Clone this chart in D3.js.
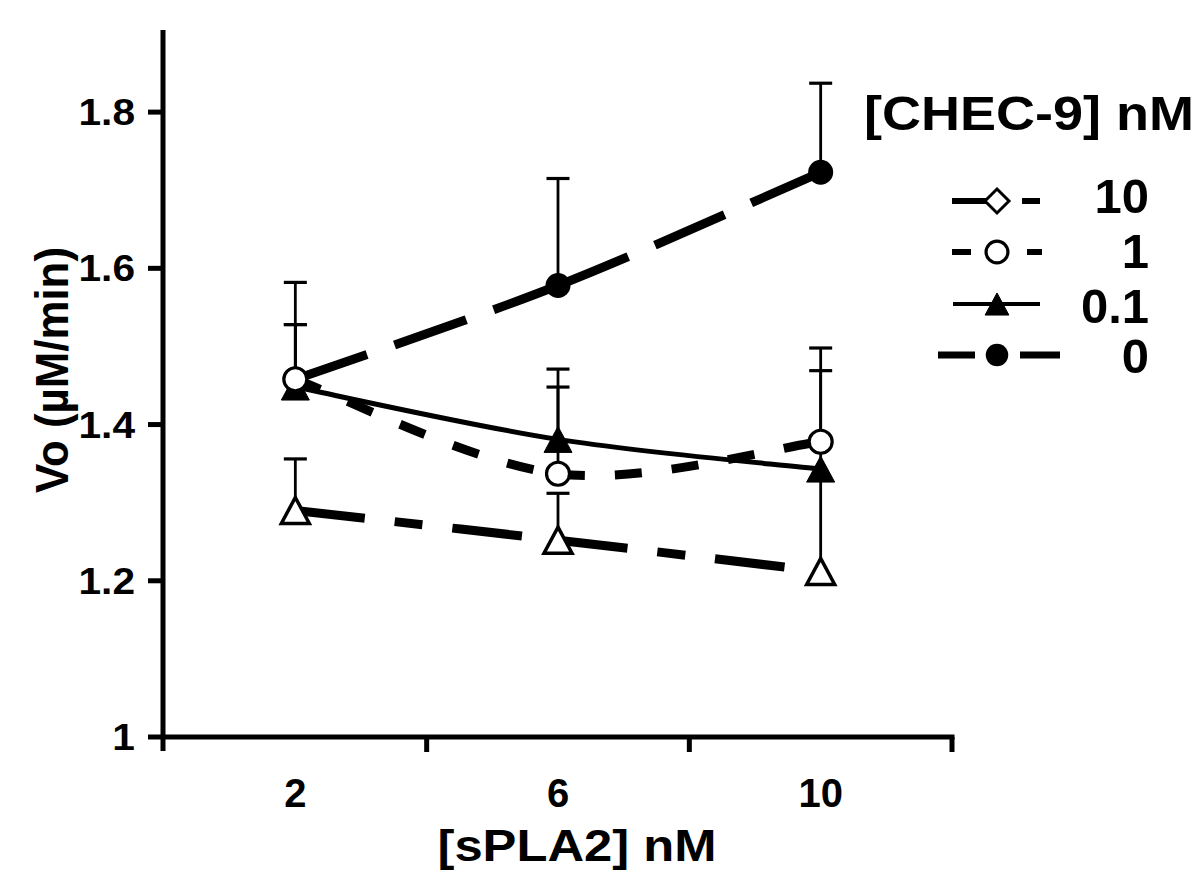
<!DOCTYPE html>
<html><head><meta charset="utf-8">
<script src="https://cdn.jsdelivr.net/npm/d3@7"></script>
<style>
body{margin:0;background:#fff}
text{font-family:"Liberation Sans",Arial,Helvetica,sans-serif;font-weight:bold;fill:#000}
</style>
</head><body>
<svg id="c" width="1200" height="887"></svg>
<script>
// ---- data ----
const categories = ["2", "6", "10"];
const values0 = [1.458, 1.578, 1.723];
const errUp0 = [0.124, 0.137, 0.114];
const errDown0 = [0, 0, 0];
const values01 = [1.448, 1.381, 1.343];
const errUp01 = [0.08, 0.09, 0.126];
const errDown01 = [0, 0, 0.126];
const values1 = [1.458, 1.337, 1.378];
const errUp1 = [0.07, 0.111, 0.12];
const errDown1 = [0, 0, 0];
const values10 = [1.29, 1.252, 1.212];
const errUp10 = [0.066, 0.06, 0];
const errDown10 = [0, 0, 0];
const yTicks = [1, 1.2, 1.4, 1.6, 1.8];
const xTitle = "[sPLA2] nM";
const yTitle = "Vo (µM/min)";
const legendTitle = "[CHEC-9] nM";
const legendLabels = ["10", "1", "0.1", "0"];

// ---- series styling ----
const series = [
  {name: "0", vals: values0, up: errUp0, dn: errDown0, width: 9, dash: "76,29", marker: "fcircle"},
  {name: "0.1", vals: values01, up: errUp01, dn: errDown01, width: 5, dash: null, marker: "ftri"},
  {name: "1", vals: values1, up: errUp1, dn: errDown1, width: 9, dash: "27,30", marker: "ocircle"},
  {name: "10", vals: values10, up: errUp10, dn: errDown10, width: 9, dash: "70,30,28,30", marker: "otri"}
];

const svg = d3.select("#c");
const x = d3.scaleBand().domain(categories).range([164, 952]).paddingInner(0).paddingOuter(0);
const cx = c => x(c) + x.bandwidth() / 2;
const y = d3.scaleLinear().domain([1, 1.9]).range([737, 34]);

// ---- axes ----
const AW = 5;
const axisG = svg.append("g");
axisG.append("line").attr("x1", 163).attr("x2", 163).attr("y1", y(1.9) - 4).attr("y2", 751)
  .attr("stroke", "#000").attr("stroke-width", AW);
axisG.append("line").attr("x1", 161).attr("x2", x.range()[1] + 2.5).attr("y1", y(1)).attr("y2", y(1))
  .attr("stroke", "#000").attr("stroke-width", AW);
const bounds = categories.map(c => x(c)).concat([x(categories[categories.length - 1]) + x.bandwidth()]).slice(1);
bounds.forEach(b => {
  axisG.append("line").attr("x1", b).attr("x2", b).attr("y1", y(1)).attr("y2", y(1) + 15)
    .attr("stroke", "#000").attr("stroke-width", AW);
});
categories.forEach(c => {
  axisG.append("text").attr("x", cx(c)).attr("y", 807).attr("text-anchor", "middle")
    .attr("font-size", 40).text(c);
});
yTicks.forEach(t => {
  axisG.append("line").attr("x1", 148).attr("x2", 163).attr("y1", y(t)).attr("y2", y(t))
    .attr("stroke", "#000").attr("stroke-width", AW);
  axisG.append("text").attr("transform", `translate(135,${y(t)}) scale(1.13,1)`)
    .attr("dy", "0.36em").attr("text-anchor", "end")
    .attr("font-size", 36).text(t === 1 ? "1" : d3.format(".1f")(t));
});
svg.append("text").attr("x", 577).attr("y", 861).attr("text-anchor", "middle")
  .attr("font-size", 45).attr("textLength", 279).attr("lengthAdjust", "spacingAndGlyphs").text(xTitle);
svg.append("text").attr("transform", "translate(68,370) rotate(-90)").attr("text-anchor", "middle")
  .attr("font-size", 46).attr("textLength", 246).attr("lengthAdjust", "spacingAndGlyphs").text(yTitle);

// ---- smoothed segments (pattern restarts at each point) ----
function segments(vals) {
  const p = vals.map((v, i) => [cx(categories[i]), y(v)]);
  const out = [];
  for (let i = 0; i < p.length - 1; i++) {
    const p0 = p[i - 1] || p[i], p1 = p[i], p2 = p[i + 1], p3 = p[i + 2] || p[i + 1];
    const path = d3.path();
    path.moveTo(p1[0], p1[1]);
    path.bezierCurveTo(
      p1[0] + (p2[0] - p0[0]) / 6, p1[1] + (p2[1] - p0[1]) / 6,
      p2[0] - (p3[0] - p1[0]) / 6, p2[1] - (p3[1] - p1[1]) / 6,
      p2[0], p2[1]);
    out.push(path.toString());
  }
  return out;
}

const linesG = svg.append("g");
series.forEach(s => {
  segments(s.vals).forEach(d => {
    linesG.append("path").attr("d", d).attr("fill", "none").attr("stroke", "#000")
      .attr("stroke-width", s.width).attr("stroke-dasharray", s.dash).attr("stroke-linecap", "butt");
  });
});

// ---- error bars ----
const errG = svg.append("g");
series.forEach(s => {
  s.vals.forEach((v, i) => {
    const xc = cx(categories[i]);
    if (s.up[i] > 0) {
      errG.append("line").attr("x1", xc).attr("x2", xc).attr("y1", y(v)).attr("y2", y(v + s.up[i]))
        .attr("stroke", "#000").attr("stroke-width", 2.8);
      errG.append("line").attr("x1", xc - 11.5).attr("x2", xc + 11.5).attr("y1", y(v + s.up[i])).attr("y2", y(v + s.up[i]))
        .attr("stroke", "#000").attr("stroke-width", 3.2);
    }
    if (s.dn[i] > 0) {
      errG.append("line").attr("x1", xc).attr("x2", xc).attr("y1", y(v)).attr("y2", y(v - s.dn[i]))
        .attr("stroke", "#000").attr("stroke-width", 2.8);
    }
  });
});

// ---- markers ----
function drawMarker(g, type, px, py, scale) {
  const k = scale || 1;
  if (type === "fcircle") {
    g.append("circle").attr("cx", px).attr("cy", py).attr("r", 12.5 * k).attr("fill", "#000");
  } else if (type === "ocircle") {
    g.append("circle").attr("cx", px).attr("cy", py).attr("r", 11.5 * k).attr("fill", "#fff")
      .attr("stroke", "#000").attr("stroke-width", 3.2);
  } else if (type === "ftri" || type === "otri") {
    const h = 26 * k, w = 28 * k;
    const pts = [[px, py - h / 2], [px + w / 2, py + h / 2], [px - w / 2, py + h / 2]];
    g.append("path").attr("d", d3.line()(pts) + "Z")
      .attr("fill", type === "ftri" ? "#000" : "#fff")
      .attr("stroke", "#000").attr("stroke-width", type === "ftri" ? 1 : 3.5)
      .attr("stroke-linejoin", "miter");
  } else if (type === "odiamond") {
    const r = 12 * k;
    g.append("path").attr("d", d3.line()([[px, py - r], [px + r, py], [px, py + r], [px - r, py]]) + "Z")
      .attr("fill", "#fff").attr("stroke", "#000").attr("stroke-width", 3);
  }
}
const markG = svg.append("g");
series.forEach(s => {
  s.vals.forEach((v, i) => drawMarker(markG, s.marker, cx(categories[i]), y(v)));
});

// ---- legend ----
const lg = svg.append("g");
lg.append("text").attr("x", 864).attr("y", 130).attr("font-size", 49)
  .attr("textLength", 330).attr("lengthAdjust", "spacingAndGlyphs").text(legendTitle);
const rowY = [201, 252, 304, 355];
const labelY = [213, 268, 323, 373];
const legendItems = [
  {segs: [[952, 988], [1022, 1040]], w: 6, marker: "odiamond", k: 1},
  {segs: [[952, 971], [1027, 1042]], w: 6, marker: "ocircle", k: 0.95},
  {segs: [[953, 1040]], w: 4, marker: "ftri", k: 0.85},
  {segs: [[938, 975], [1020, 1060]], w: 7, marker: "fcircle", k: 0.9}
];
legendItems.forEach((it, i) => {
  it.segs.forEach(sg => {
    lg.append("line").attr("x1", sg[0]).attr("x2", sg[1]).attr("y1", rowY[i]).attr("y2", rowY[i])
      .attr("stroke", "#000").attr("stroke-width", it.w);
  });
  drawMarker(lg, it.marker, 997, rowY[i], it.k);
  lg.append("text").attr("x", 1149).attr("y", labelY[i]).attr("text-anchor", "end")
    .attr("font-size", 49).text(legendLabels[i]);
});
</script>
</body></html>
